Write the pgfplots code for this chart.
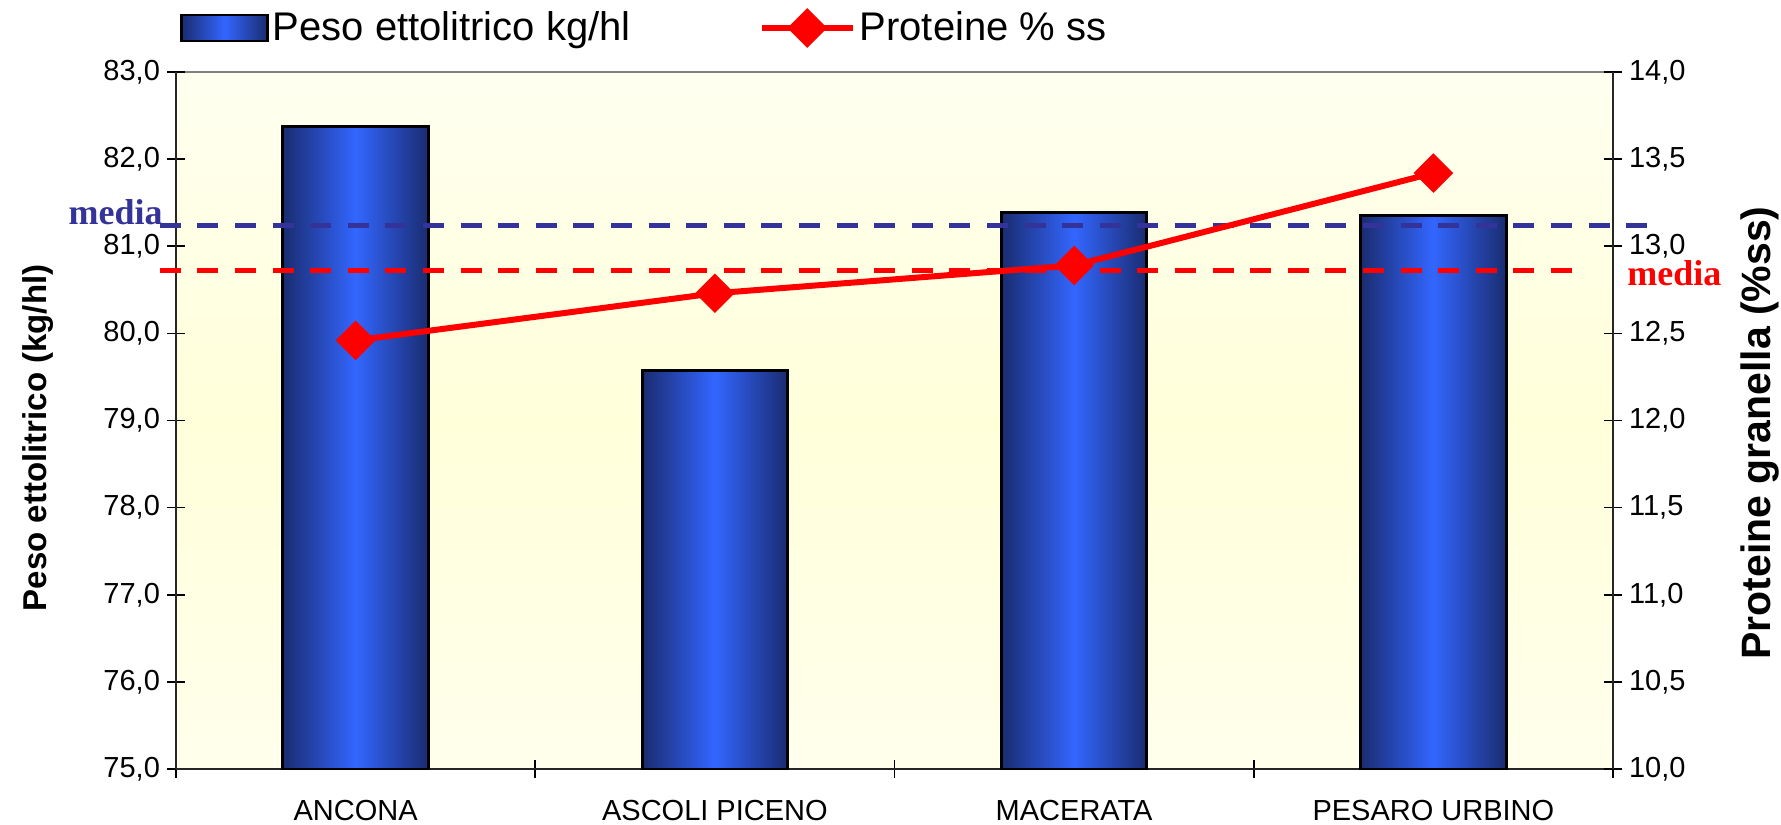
\documentclass[border=0pt]{standalone}
\usepackage{fontspec}
\setmainfont{Liberation Sans}
\newfontfamily\mediafont{Liberation Serif}
\usepackage{pgfplots}
\pgfplotsset{compat=1.18}

\definecolor{bardark}{RGB}{26,44,112}
\definecolor{barlight}{RGB}{51,102,255}
\definecolor{mediablue}{RGB}{51,51,153}
\definecolor{bgtop}{RGB}{255,255,240}
\definecolor{bgmid}{RGB}{255,255,218}
\definecolor{bgbot}{RGB}{255,255,236}

\pgfplotsset{
  common/.style={
    at={(88pt,27.5pt)}, anchor=south west,
    scale only axis, width=718.5pt, height=348.5pt,
    xmin=-0.5, xmax=3.5,
    tick align=center,
    major tick length=9pt, minor tick length=9pt,
    every tick/.style={black, line width=0.8pt},
    axis line style={black!85, line width=1.2pt},
    tick label style={font=\fontsize{14.5}{16}\selectfont},
    /pgf/number format/assume math mode=true,
    yticklabel style={inner ysep=0pt, /pgf/number format/.cd, fixed, fixed zerofill, precision=1, use comma},
  },
  % one bar per \addplot so that every bar gets its own cylinder-like shading
  cylbar/.style={ybar, bar shift=0pt, bar width=72.8pt, draw=black, line width=1.5pt,
    left color=bardark, right color=bardark, middle color=barlight},
  barlegend/.style={legend image code/.code={\draw[##1] (0pt,-6.5pt) rectangle (43pt,6.5pt);}},
  linelegend/.style={legend image code/.code={\draw[mark repeat=2, mark phase=2, ##1] plot coordinates {(0pt,0pt) (22.75pt,0pt) (45.5pt,0pt)};}},
}

\begin{document}
\begin{tikzpicture}
\useasboundingbox (0,0) rectangle (890.5pt,412pt);

% left axis: bars
\begin{axis}[common,
  ymin=75, ymax=83, ytick={75,76,...,83},
  axis x line*=bottom, axis y line*=left,
  xtick={0,1,2,3},
  xticklabels={ANCONA, ASCOLI PICENO, MACERATA, PESARO URBINO},
  major x tick style={draw=none},
  minor xtick={-0.5,0.5,1.5,2.5,3.5},
  xticklabel style={anchor=north, yshift=-7.8pt},
  axis background/.style={top color=bgtop, bottom color=bgbot, middle color=bgmid, draw=gray, line width=0.8pt},
  every axis y label/.style={at={(axis description cs:-0.096,0.475)}, anchor=center, rotate=90,
    font=\fontsize{16.5}{18}\selectfont\bfseries},
  ylabel={Peso ettolitrico (kg/hl)},
]
\addplot[cylbar] coordinates {(0,82.37)};
\addplot[cylbar] coordinates {(1,79.57)};
\addplot[cylbar] coordinates {(2,81.39)};
\addplot[cylbar] coordinates {(3,81.35)};
\end{axis}

% right axis: protein line and the two averages
\begin{axis}[common,
  ymin=10, ymax=14, ytick={10,10.5,...,14},
  axis y line*=right, axis x line=none,
  clip=false,
  every axis y label/.style={at={(axis description cs:1.102,0.482)}, anchor=center, rotate=90,
    font=\fontsize{20.5}{22}\selectfont\bfseries},
  ylabel={Proteine granella (\%ss)},
  legend style={at={(axis description cs:0,1)}, anchor=west, xshift=2pt, yshift=22pt,
    draw=none, fill=none, inner sep=0pt, legend columns=2,
    font=\fontsize{20}{22}\selectfont,
    /tikz/every even column/.append style={column sep=62pt}},
]
\addlegendimage{barlegend, draw=black, line width=1.2pt, left color=bardark, right color=bardark, middle color=barlight}
\addlegendentry{Peso ettolitrico kg/hl}

\addplot[mediablue, line width=2.5pt, dash pattern=on 10.5pt off 8.3pt, forget plot]
  coordinates {(-0.545,13.118) (3.622,13.118)};
\addplot[red, line width=2.5pt, dash pattern=on 10.5pt off 8.3pt, forget plot]
  coordinates {(-0.545,12.858) (3.413,12.858)};

\addplot[red, line width=3pt, mark=square*, mark size=5.5pt, mark options={rotate=45, solid, fill=red}, linelegend]
  coordinates {(0,12.46) (1,12.73) (2,12.89) (3,13.42)};
\addlegendentry{Proteine \% ss}

\node[mediablue, inner sep=0pt, font=\fontsize{18}{20}\selectfont\mediafont\bfseries] at (axis cs:-0.668,13.197) {media};
\node[red, inner sep=0pt, font=\fontsize{18}{20}\selectfont\mediafont\bfseries] at (axis cs:3.671,12.845) {media};
\end{axis}
\end{tikzpicture}
\end{document}
